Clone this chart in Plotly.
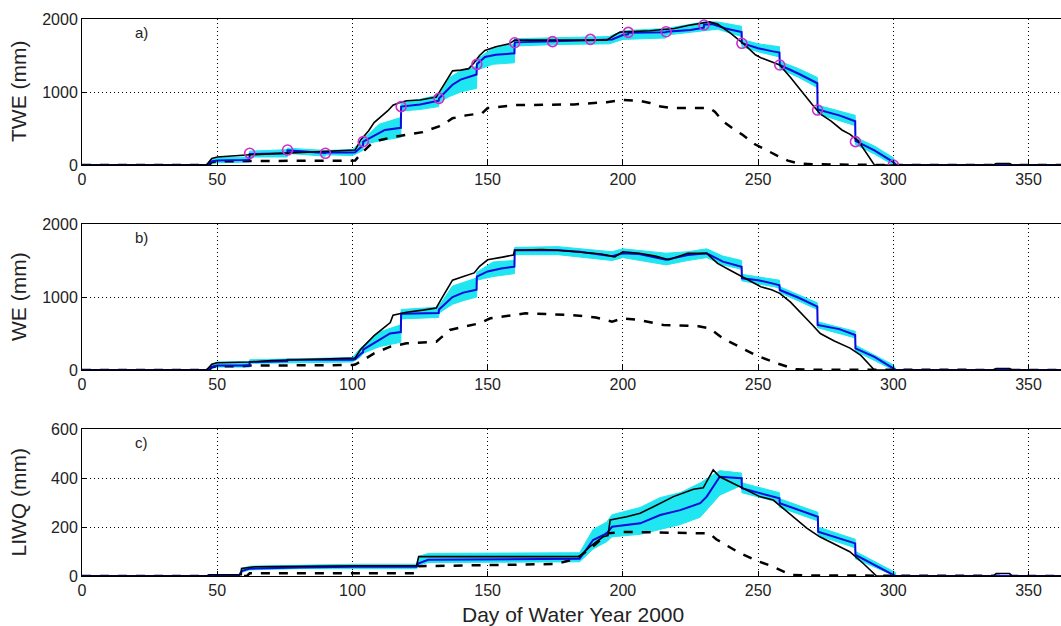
import plotly.graph_objects as go

# ---------------- Panel a) TWE ----------------
a_truth_day = [0, 46, 48, 50, 62, 75, 90, 100, 101, 103, 106, 108, 110, 113, 115, 117, 120, 125, 131, 133, 135, 137, 140, 143, 145, 147, 149, 153, 158, 160, 175, 194, 197, 199, 210, 219, 224, 229, 232, 235, 240, 245, 249, 251, 254, 258, 262, 266, 270, 273, 277, 281, 284, 287, 290, 293, 337, 338, 343, 344, 362]
a_truth_val = [0, 0, 90, 110, 140, 160, 180, 200, 205, 340, 470, 580, 640, 740, 820, 850, 880, 890, 930, 1050, 1160, 1290, 1300, 1320, 1400, 1500, 1570, 1620, 1660, 1710, 1710, 1710, 1780, 1820, 1840, 1870, 1910, 1940, 1960, 1930, 1800, 1650, 1510, 1470, 1430, 1370, 1200, 1010, 830, 700, 600, 480, 420, 330, 170, 0, 0, 20, 20, 0, 0]

a_mean_day = [0, 46, 48, 50, 61.9, 62, 75.9, 76, 89.9, 90, 100, 101, 103, 103.9, 104, 108, 112, 117.9, 118, 125, 131.9, 132, 134, 137, 140, 145.9, 146, 149, 153, 159.9, 160, 173.9, 174, 188, 196, 200, 201.9, 202, 215.9, 216, 225, 229.9, 230, 233, 238, 243.9, 244, 250, 255, 257.9, 258, 265, 271.9, 272, 280, 285.9, 286, 293, 300, 301, 362]
a_mean_val = [0, 0, 50, 60, 70, 150, 160, 200, 165, 170, 170, 175, 240, 260, 320, 400, 480, 510, 800, 830, 880, 910, 990, 1100, 1170, 1240, 1380, 1480, 1510, 1530, 1680, 1690, 1700, 1710, 1720, 1780, 1790, 1810, 1820, 1825, 1850, 1880, 1920, 1930, 1870, 1820, 1670, 1600, 1560, 1540, 1370, 1250, 1120, 760, 680, 600, 330, 200, 40, 0, 0]

a_ens_day = [46, 48, 50, 61.9, 62, 75.9, 76, 89.9, 90, 100, 103, 103.9, 104, 110, 117.9, 118, 125, 131.9, 132, 136, 140, 145.9, 146, 152, 159.9, 160, 175, 195, 200, 215.9, 216, 230, 235, 243.9, 244, 250, 257.9, 258, 265, 271.9, 272, 285.9, 286, 293, 300, 301]
a_ens_lo = [0, 20, 30, 40, 110, 110, 160, 120, 140, 130, 180, 200, 280, 330, 380, 740, 760, 800, 860, 940, 1000, 1050, 1300, 1380, 1400, 1630, 1650, 1660, 1720, 1740, 1780, 1840, 1860, 1760, 1620, 1550, 1480, 1320, 1200, 1060, 700, 540, 280, 150, 0, 0]
a_ens_hi = [0, 80, 100, 110, 190, 210, 230, 210, 200, 210, 320, 340, 360, 560, 650, 860, 900, 960, 960, 1200, 1290, 1350, 1450, 1600, 1660, 1730, 1740, 1760, 1840, 1880, 1870, 1960, 1960, 1900, 1720, 1660, 1620, 1420, 1320, 1200, 820, 680, 380, 260, 100, 0]

a_open_day = [0, 47, 48, 50, 62, 100, 101, 103, 107, 110, 116, 126, 132, 135, 137, 142, 148, 150, 160, 182, 194, 200, 206, 210, 214, 218, 232, 234, 237, 241, 244, 249, 253, 257, 261, 265, 270, 290, 295, 362]
a_open_val = [0, 0, 40, 50, 55, 55, 60, 150, 290, 340, 390, 450, 530, 590, 640, 680, 710, 780, 820, 830, 860, 890, 880, 850, 800, 780, 780, 730, 600, 490, 420, 280, 200, 130, 60, 20, 10, 5, 0, 0]

a_obs_day = [62, 76, 90, 104, 118, 132, 146, 160, 174, 188, 202, 216, 230, 244, 258, 272, 286, 300]
a_obs_val = [160, 205, 160, 320, 800, 913, 1379, 1675, 1690, 1721, 1817, 1826, 1918, 1667, 1370, 753, 320, 0]

# ---------------- Panel b) WE ----------------
b_truth_day = [0, 46, 48, 50, 62, 70, 80, 90, 100, 101, 103, 106, 108, 111, 114, 115, 120, 126, 131, 133, 135, 137, 141, 145, 147, 150, 156, 159.5, 160, 170, 176, 184, 192, 197, 200, 206, 212, 217, 220, 224, 231, 235, 240, 243, 247, 251, 255, 258, 262, 266, 270, 273, 278, 284, 288, 293, 337, 338, 343, 344, 362]
b_truth_val = [0, 0, 80, 100, 110, 130, 140, 150, 160, 165, 280, 400, 470, 560, 650, 750, 790, 820, 850, 980, 1100, 1230, 1280, 1330, 1420, 1510, 1550, 1575, 1640, 1650, 1640, 1620, 1590, 1550, 1620, 1600, 1560, 1510, 1550, 1600, 1598, 1460, 1360, 1300, 1210, 1140, 1100, 1050, 930, 780, 620, 500, 400, 300, 200, 0, 0, 20, 20, 0, 0]

b_mean_day = [0, 46, 48, 50, 61.9, 62, 75.9, 76, 100, 101, 103, 103.9, 104, 110, 113.9, 117.9, 118, 131.9, 132, 137, 141, 145.9, 146, 150, 155, 159.9, 160, 176, 184, 196, 200, 206, 216, 224, 231, 237, 243.9, 244, 250, 256, 257.9, 258, 265, 271.9, 272, 280, 285.9, 286, 293, 300, 301, 362]
b_mean_val = [0, 0, 40, 60, 60, 110, 120, 140, 140, 145, 220, 240, 280, 420, 500, 520, 770, 780, 830, 1000, 1060, 1100, 1280, 1350, 1390, 1415, 1640, 1640, 1620, 1560, 1600, 1590, 1510, 1575, 1598, 1484, 1415, 1256, 1230, 1180, 1160, 1096, 990, 868, 616, 560, 479, 297, 180, 23, 0, 0]

b_ens_day = [46, 48, 50, 61.9, 62, 100, 103, 104, 110, 117.9, 118, 131.9, 132, 137, 141, 145.9, 146, 152, 159.9, 160, 176, 196, 200, 216, 224, 231, 237, 243.9, 244, 256, 257.9, 258, 271.9, 272, 285.9, 286, 300, 301]
b_ens_lo = [0, 20, 40, 40, 90, 110, 180, 230, 320, 380, 700, 720, 780, 900, 950, 1000, 1230, 1280, 1320, 1580, 1580, 1500, 1540, 1440, 1500, 1540, 1440, 1380, 1220, 1140, 1120, 1060, 830, 580, 440, 260, 0, 0]
b_ens_hi = [0, 80, 110, 110, 140, 170, 300, 330, 520, 620, 830, 860, 880, 1150, 1200, 1260, 1340, 1480, 1500, 1680, 1690, 1620, 1660, 1600, 1620, 1660, 1560, 1500, 1310, 1240, 1230, 1140, 920, 660, 530, 340, 70, 0]

b_open_day = [0, 47, 48, 50, 60, 62, 100, 101, 103, 108, 114, 120, 131, 136, 142, 147, 151, 164, 181, 190, 196, 200, 206, 215, 228, 232, 237, 243, 249, 257, 264, 270, 290, 295, 362]
b_open_val = [0, 0, 40, 50, 55, 60, 68, 75, 114, 228, 320, 365, 388, 548, 600, 639, 708, 776, 753, 720, 662, 708, 685, 616, 600, 571, 434, 320, 205, 91, 9, 5, 3, 0, 0]

# ---------------- Panel c) LIWQ ----------------
c_truth_day = [0, 46, 47, 58.9, 59, 64, 100, 123.7, 124.5, 184, 187.8, 192.7, 194.5, 195.3, 201.4, 206.4, 211.3, 218.7, 226.1, 229.7, 233.4, 235.8, 243.3, 250.6, 255.6, 262, 268, 272.8, 278, 283.9, 289, 293.8, 337, 338, 343, 344, 362]
c_truth_val = [0, 0, 5, 5, 31, 38, 42, 42, 79, 79, 120, 160, 165, 229, 242, 256, 283, 324, 354, 360, 433, 405, 364, 324, 310, 250, 195, 160, 130, 99, 50, 0, 0, 10, 10, 0, 0]

c_mean_day = [0, 58, 59, 62, 80, 100, 123.7, 124.5, 128, 184, 189, 194, 196, 206.4, 213.8, 221.2, 228.6, 231, 235.8, 243.9, 244, 257.9, 258, 272.1, 272.2, 285.9, 286, 300.7, 362]
c_mean_val = [0, 0, 20, 30, 35, 38, 38, 52, 66, 70, 147, 174, 201, 215, 249, 269, 297, 324, 405, 399, 358, 317, 297, 242, 181, 133, 86, 0, 0]

c_ens_day = [58, 59, 62, 80, 100, 123.7, 124.5, 128, 184, 189, 194, 196, 206.4, 213.8, 221.2, 228.6, 235.8, 243.9, 244, 257.9, 258, 272.1, 272.2, 285.9, 286, 300.7, 301]
c_ens_lo = [0, 15, 25, 30, 30, 30, 45, 55, 58, 110, 140, 160, 170, 190, 210, 240, 330, 370, 340, 300, 280, 225, 165, 115, 70, 0, 0]
c_ens_hi = [0, 30, 40, 45, 48, 48, 80, 92, 95, 190, 220, 250, 280, 320, 340, 380, 430, 420, 380, 340, 315, 260, 200, 150, 100, 15, 0]

c_open_day = [0, 61, 62, 123.7, 124.5, 175.5, 181.6, 184, 190, 194, 200, 232, 234.5, 243.3, 250, 255.6, 261.8, 270, 362]
c_open_val = [0, 0, 11, 11, 40, 49, 68, 80, 130, 174, 180, 174, 150, 93, 60, 38, 5, 2, 0]

x_ticks = [0, 50, 100, 150, 200, 250, 300, 350]
panel_letters = ["a)", "b)", "c)"]
y_titles = ["TWE (mm)", "WE (mm)", "LIWQ (mm)"]
y_ranges = [[0, 2000], [0, 2000], [0, 600]]
y_tickvals = [[0, 1000, 2000], [0, 1000, 2000], [0, 200, 400, 600]]
x_title = "Day of Water Year 2000"

CYAN = "#1FE6F0"
BLUE = "#0A0ADC"
MAGENTA = "#CC2ECC"
FONT = "Liberation Sans, Arial, sans-serif"
GRID_DASH = "1px,3px"

panels = [
    (a_truth_day, a_truth_val, a_mean_day, a_mean_val, a_ens_day, a_ens_lo, a_ens_hi, a_open_day, a_open_val),
    (b_truth_day, b_truth_val, b_mean_day, b_mean_val, b_ens_day, b_ens_lo, b_ens_hi, b_open_day, b_open_val),
    (c_truth_day, c_truth_val, c_mean_day, c_mean_val, c_ens_day, c_ens_lo, c_ens_hi, c_open_day, c_open_val),
]

W, H = 1061, 626
plot_left = 82
# pixel top/bottom of each panel's plot area
panel_px = [(19, 165), (224, 370), (429, 576)]

fig = go.Figure()
for i, (td, tv, md, mv, ed, elo, ehi, od, ov) in enumerate(panels):
    sfx = "" if i == 0 else str(i + 1)
    xa, ya = "x" + sfx, "y" + sfx
    fig.add_trace(go.Scatter(x=ed, y=elo, mode="lines", line=dict(color=CYAN, width=1),
                             xaxis=xa, yaxis=ya, showlegend=False, hoverinfo="skip"))
    fig.add_trace(go.Scatter(x=ed, y=ehi, mode="lines", line=dict(color=CYAN, width=1),
                             fill="tonexty", fillcolor=CYAN,
                             xaxis=xa, yaxis=ya, showlegend=False, hoverinfo="skip"))
    fig.add_trace(go.Scatter(x=od, y=ov, mode="lines", line=dict(color="black", width=2.5, dash="dash"),
                             xaxis=xa, yaxis=ya, showlegend=False))
    fig.add_trace(go.Scatter(x=md, y=mv, mode="lines", line=dict(color=BLUE, width=2),
                             xaxis=xa, yaxis=ya, showlegend=False))
    fig.add_trace(go.Scatter(x=td, y=tv, mode="lines", line=dict(color="black", width=1.6),
                             xaxis=xa, yaxis=ya, showlegend=False))
    if i == 0:
        fig.add_trace(go.Scatter(x=a_obs_day, y=a_obs_val, mode="markers",
                                 marker=dict(symbol="circle-open", size=10, color=MAGENTA,
                                             line=dict(width=1.6, color=MAGENTA)),
                                 xaxis=xa, yaxis=ya, showlegend=False))

    top, bot = panel_px[i]
    dom_y = [1 - bot / H, 1 - top / H]
    fig.layout["xaxis" + sfx] = dict(
        domain=[plot_left / W, 1], range=[0, 362], anchor=ya,
        tickvals=x_ticks, ticks="inside", ticklen=5, tickcolor="black",
        showline=True, linecolor="black", linewidth=1, mirror=True,
        showgrid=True, gridcolor="black", griddash=GRID_DASH, gridwidth=1,
        zeroline=False, automargin=False,
        tickfont=dict(family=FONT, size=16, color="#222"),
    )
    fig.layout["yaxis" + sfx] = dict(
        domain=dom_y, range=y_ranges[i], anchor=xa,
        tickvals=y_tickvals[i], ticks="inside", ticklen=5, tickcolor="black",
        showline=True, linecolor="black", linewidth=1,
        showgrid=True, gridcolor="black", griddash=GRID_DASH, gridwidth=1,
        zeroline=False, automargin=False,
        tickfont=dict(family=FONT, size=16, color="#222"),
    )
    # panel letter
    fig.add_annotation(x=22, y=y_ranges[i][1] * 0.905, xref=xa, yref=ya, text=panel_letters[i],
                       showarrow=False, font=dict(family=FONT, size=15, color="#222"))
    # y title
    fig.add_annotation(x=18 / W, y=1 - (top + bot) / 2 / H, xref="paper", yref="paper",
                       xanchor="center", yanchor="middle",
                       text=y_titles[i], textangle=-90, showarrow=False,
                       font=dict(family=FONT, size=21, color="#222"))

fig.add_annotation(x=573 / W, y=1 - 614 / H, xref="paper", yref="paper", text=x_title,
                   xanchor="center", yanchor="middle",
                   showarrow=False, font=dict(family=FONT, size=21, color="#222"))

fig.update_layout(width=W, height=H, margin=dict(l=0, r=0, t=0, b=0),
                  plot_bgcolor="white", paper_bgcolor="white", showlegend=False)

fig.write_html("out.html", config={"displayModeBar": False},
               post_script="document.body.style.margin='0px';document.body.style.padding='0px';")
